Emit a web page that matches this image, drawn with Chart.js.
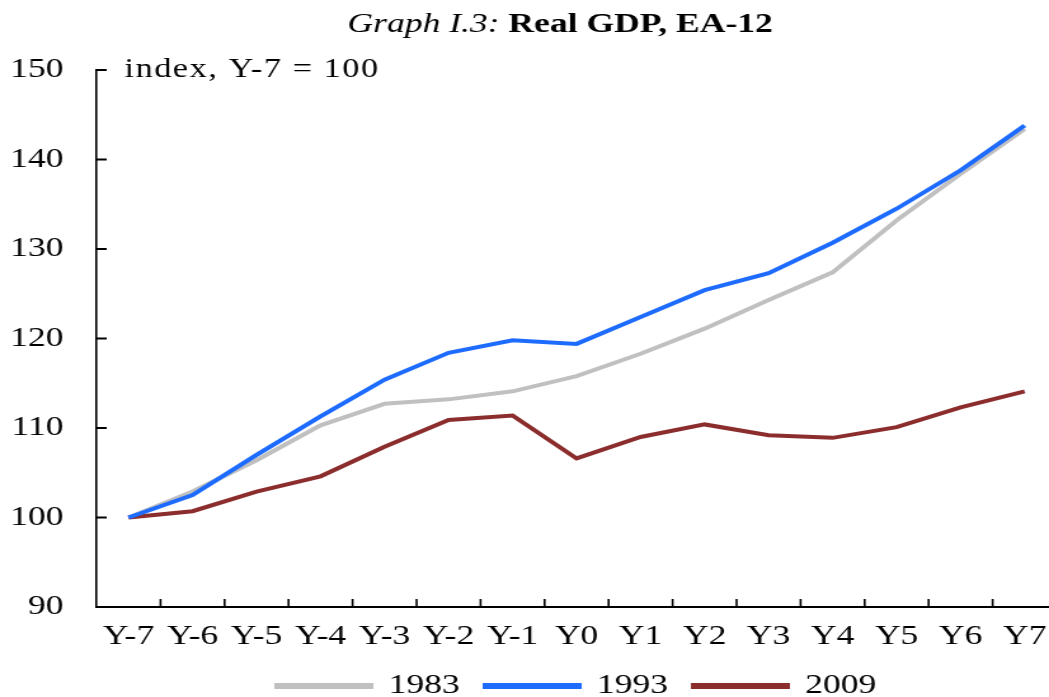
<!DOCTYPE html>
<html>
<head>
<meta charset="utf-8">
<script src="https://cdn.jsdelivr.net/npm/chart.js@4/dist/chart.umd.min.js"></script>
<style>
  html, body { margin: 0; padding: 0; background: #fff; overflow: hidden; }
  /* the source picture is stretched sideways, so the whole chart is too */
  #wrap { width: 946px; height: 720px; transform: scaleX(1.27); transform-origin: 0 0; }
</style>
</head>
<body>
<div id="wrap"><canvas id="chart" width="946" height="720"></canvas></div>
<script>
const categories = ['Y-7', 'Y-6', 'Y-5', 'Y-4', 'Y-3', 'Y-2', 'Y-1', 'Y0', 'Y1', 'Y2', 'Y3', 'Y4', 'Y5', 'Y6', 'Y7'];
const gdp1983 = [100, 102.9, 106.4, 110.3, 112.7, 113.2, 114.1, 115.8, 118.3, 121.1, 124.3, 127.4, 133.2, 138.4, 143.4];
const gdp1993 = [100, 102.5, 107.0, 111.3, 115.4, 118.4, 119.8, 119.4, 122.4, 125.4, 127.3, 130.7, 134.5, 138.8, 143.8];
const gdp2009 = [100, 100.7, 102.9, 104.6, 107.9, 110.9, 111.4, 106.6, 109.0, 110.4, 109.2, 108.9, 110.1, 112.3, 114.1];
const yTicks = [90, 100, 110, 120, 130, 140, 150];

const FONT = "'Liberation Serif', 'Times New Roman', serif";

// title and unit note
const textPlugin = {
  id: 'textPlugin',
  afterDraw(chart) {
    const ctx = chart.ctx;
    ctx.save();
    ctx.fillStyle = '#000';
    ctx.textBaseline = 'alphabetic';
    const part1 = 'Graph I.3: ';
    const part2 = 'Real GDP, EA-12';
    ctx.font = 'italic 28px ' + FONT;
    const w1 = ctx.measureText(part1).width;
    ctx.font = 'bold 28px ' + FONT;
    const w2 = ctx.measureText(part2).width;
    const x0 = 441 - (w1 + w2) / 2;
    ctx.font = 'italic 28px ' + FONT;
    ctx.fillText(part1, x0, 32);
    ctx.font = 'bold 28px ' + FONT;
    ctx.fillText(part2, x0 + w1, 32);
    ctx.font = '27px ' + FONT;
    ctx.letterSpacing = '1.2px';
    ctx.fillText('index, Y-7 = 100', 98, 77);
    ctx.restore();
  }
};

// tick marks pointing into the plot
const innerTicks = {
  id: 'innerTicks',
  afterDraw(chart) {
    const { ctx, chartArea } = chart;
    const x = chart.scales.x;
    const y = chart.scales.y;
    ctx.save();
    ctx.strokeStyle = '#000';
    ctx.lineWidth = 1.6;
    ctx.beginPath();
    for (let i = 1; i <= categories.length; i++) {
      const px = i < categories.length
        ? (x.getPixelForValue(i - 1) + x.getPixelForValue(i)) / 2
        : x.getPixelForValue(i - 1) + (x.getPixelForValue(1) - x.getPixelForValue(0)) / 2;
      ctx.moveTo(px, chartArea.bottom);
      ctx.lineTo(px, chartArea.bottom - 8);
    }
    ctx.stroke();
    ctx.lineWidth = 2;
    ctx.beginPath();
    yTicks.forEach(v => {
      if (v === 90) return;
      const py = y.getPixelForValue(v);
      ctx.moveTo(chartArea.left, py);
      ctx.lineTo(chartArea.left + 8, py);
    });
    ctx.stroke();
    ctx.restore();
  }
};

const ctx = document.getElementById('chart').getContext('2d');
new Chart(ctx, {
  type: 'line',
  data: {
    labels: categories,
    datasets: [
      { label: '1983', data: gdp1983, borderColor: '#c0c0c0', backgroundColor: '#c0c0c0', borderWidth: 4, pointRadius: 0, tension: 0, order: 2 },
      { label: '1993', data: gdp1993, borderColor: '#1e6cff', backgroundColor: '#1e6cff', borderWidth: 4, pointRadius: 0, tension: 0, order: 0 },
      { label: '2009', data: gdp2009, borderColor: '#8c2d2d', backgroundColor: '#8c2d2d', borderWidth: 4, pointRadius: 0, tension: 0, order: 1 },
    ],
  },
  options: {
    responsive: false,
    animation: false,
    devicePixelRatio: 1,
    layout: { padding: { top: 70, right: 114, bottom: 10, left: 0 } },
    plugins: {
      title: { display: false },
      tooltip: { enabled: false },
      legend: {
        position: 'bottom',
        fullSize: false,
        labels: {
          boxWidth: 74,
          boxHeight: 2,
          padding: 20,
          color: '#000',
          font: { family: FONT, size: 28 },
          sort: (a, b) => a.datasetIndex - b.datasetIndex,
        },
      },
    },
    scales: {
      x: {
        type: 'category',
        offset: true,
        grid: { display: false, drawTicks: false, offset: true },
        border: { display: true, color: '#000', width: 2 },
        ticks: { color: '#000', font: { family: FONT, size: 28 }, padding: 13, autoSkip: false, maxRotation: 0 },
        afterFit(scale) { scale.height = 45; },
      },
      y: {
        min: 90,
        max: 150,
        afterBuildTicks(scale) { scale.ticks = yTicks.map(v => ({ value: v })); },
        grid: { display: false, drawTicks: false },
        border: { display: true, color: '#000', width: 1.6 },
        ticks: { color: '#000', font: { family: FONT, size: 28 }, padding: 26 },
        afterFit(scale) { scale.width = 76; },
      },
    },
  },
  plugins: [textPlugin, innerTicks],
});
</script>
</body>
</html>
